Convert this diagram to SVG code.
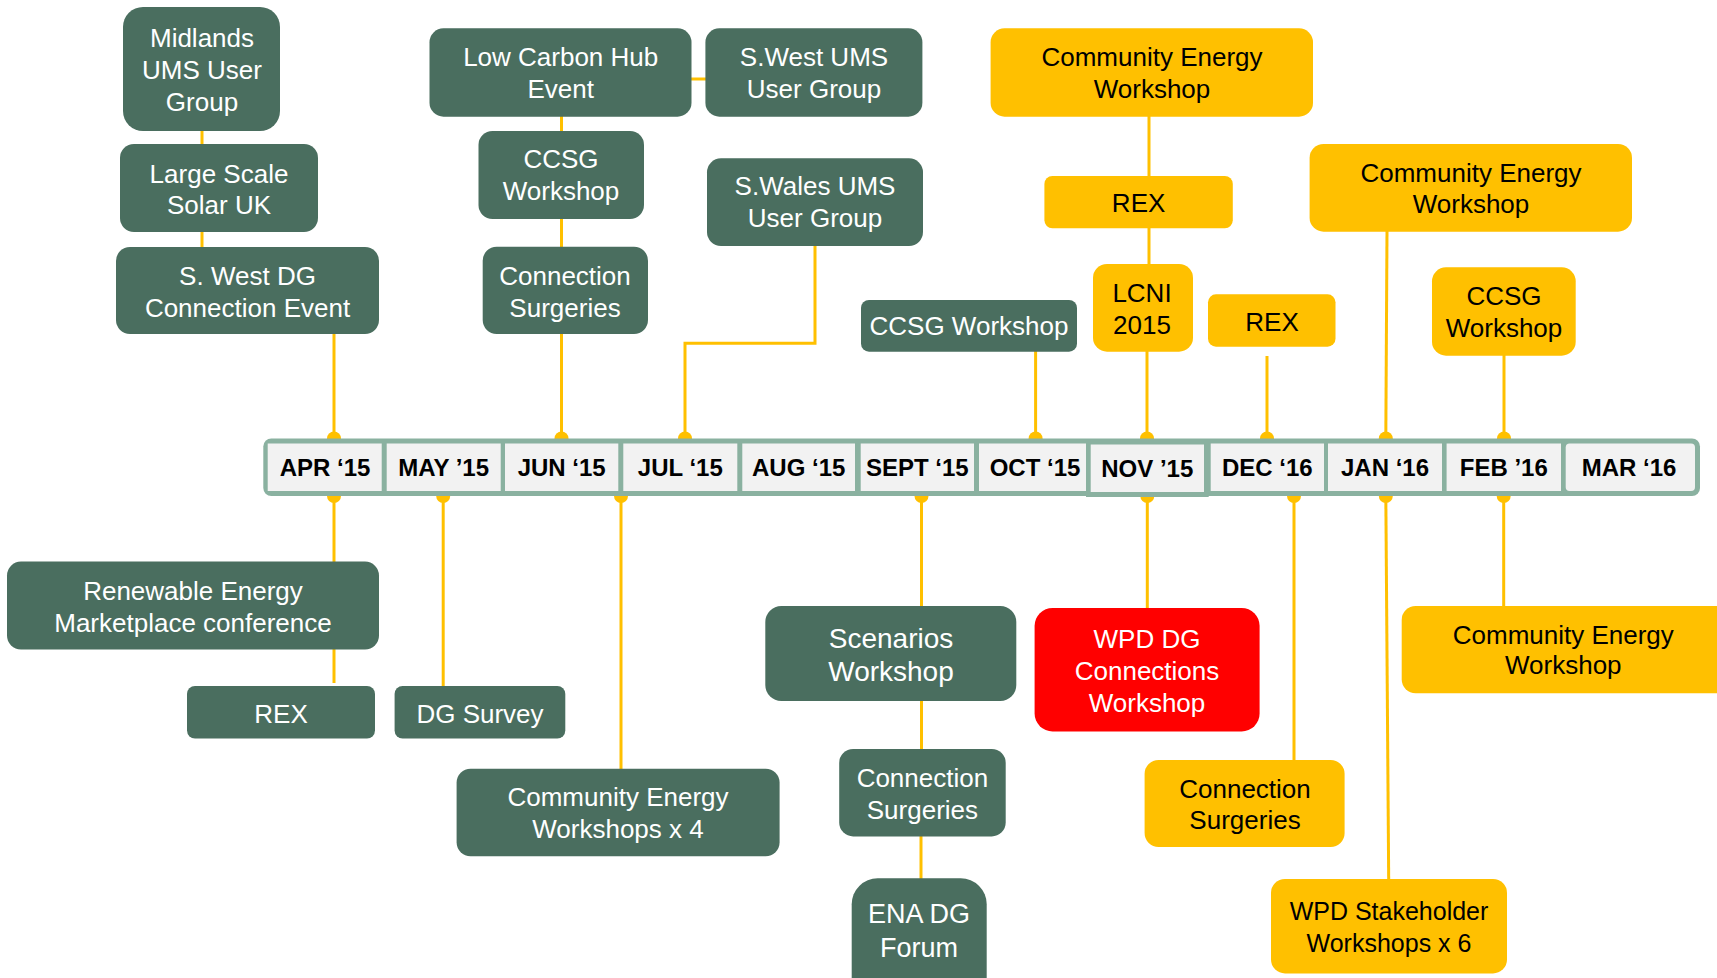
<svg xmlns="http://www.w3.org/2000/svg" width="1717" height="978" viewBox="0 0 1717 978">
<style>
text{font-family:"Liberation Sans",Arial,sans-serif;text-anchor:middle}
.g rect{fill:#4A6E5F}
.y rect{fill:#FFC000}
.r rect{fill:#FF0000}
.g text,.r text{fill:#FFFFFF;font-size:26px}
.y text{fill:#000000;font-size:26px}
.m{font-weight:bold;font-size:24px;fill:#000000}
.cell{fill:#F2F2F2}
#connectors line,#connectors polyline{stroke:#FFC000;stroke-width:3;fill:none}
#connectors circle{fill:#FFC000}
</style>
<rect width="1717" height="978" fill="#FFFFFF"/>
<g id="connectors">
<line x1="202" y1="130" x2="202" y2="145"/>
<line x1="202" y1="231" x2="202" y2="248"/>
<line x1="334" y1="333" x2="334" y2="440"/>
<line x1="691" y1="79" x2="706" y2="79"/>
<line x1="561.5" y1="116" x2="561.5" y2="132"/>
<line x1="561.5" y1="218" x2="561.5" y2="248"/>
<line x1="561.5" y1="333" x2="561.5" y2="440"/>
<polyline points="815,245 815,343.3 685,343.3 685,440"/>
<line x1="1035.6" y1="351" x2="1035.6" y2="440"/>
<line x1="1149" y1="116" x2="1149" y2="177"/>
<line x1="1149" y1="228" x2="1149" y2="265"/>
<line x1="1147" y1="351" x2="1147" y2="440"/>
<line x1="1267" y1="356" x2="1267" y2="440"/>
<line x1="1387" y1="231" x2="1385.8" y2="440"/>
<line x1="1504" y1="355" x2="1504" y2="440"/>
<line x1="334" y1="494" x2="334" y2="562"/>
<line x1="334" y1="649" x2="334" y2="683"/>
<line x1="443.2" y1="494" x2="443.2" y2="687"/>
<line x1="621" y1="494" x2="621" y2="769"/>
<line x1="921.5" y1="494" x2="921.5" y2="607"/>
<line x1="921.5" y1="700" x2="921.5" y2="750"/>
<line x1="921" y1="835" x2="921" y2="879"/>
<line x1="1147.3" y1="494" x2="1147.3" y2="609"/>
<line x1="1294" y1="494" x2="1294" y2="761"/>
<line x1="1385.8" y1="494" x2="1388.7" y2="880"/>
<line x1="1503.7" y1="494" x2="1503.7" y2="607"/>
<circle cx="334" cy="438.5" r="7"/>
<circle cx="561.5" cy="438.5" r="7"/>
<circle cx="685" cy="438.5" r="7"/>
<circle cx="1035.6" cy="438.5" r="7"/>
<circle cx="1147" cy="438.5" r="7"/>
<circle cx="1267" cy="438.5" r="7"/>
<circle cx="1385.8" cy="438.5" r="7"/>
<circle cx="1504" cy="438.5" r="7"/>
<circle cx="334" cy="496" r="7"/>
<circle cx="443.2" cy="496" r="7"/>
<circle cx="621" cy="496" r="7"/>
<circle cx="921.5" cy="496" r="7"/>
<circle cx="1147.3" cy="496" r="7"/>
<circle cx="1294" cy="496" r="7"/>
<circle cx="1385.8" cy="496" r="7"/>
<circle cx="1503.7" cy="496" r="7"/>
</g>
<g id="timeline">
<rect x="263.3" y="438.5" width="1436.7" height="57.5" rx="8" fill="#8AB1A0"/>
<rect class="cell" x="267.7" y="443.5" width="114" height="47.5"/>
<rect class="cell" x="386.7" y="443.5" width="114" height="47.5"/>
<rect class="cell" x="505" y="443.5" width="113.3" height="47.5"/>
<rect class="cell" x="623.3" y="443.5" width="114" height="47.5"/>
<rect class="cell" x="742.3" y="443.5" width="112.7" height="47.5"/>
<rect class="cell" x="860.7" y="443.5" width="113.3" height="47.5"/>
<rect class="cell" x="979" y="443.5" width="107" height="47.5"/>
<rect x="1086" y="440" width="122.7" height="57" fill="#8AB1A0"/>
<rect class="cell" x="1090.7" y="444.5" width="113.3" height="47.5"/>
<rect class="cell" x="1210.7" y="443.5" width="113.3" height="47.5"/>
<rect class="cell" x="1328" y="443.5" width="114" height="47.5"/>
<rect class="cell" x="1446.6" y="443.5" width="114.4" height="47.5"/>
<rect class="cell" x="1565.7" y="443.5" width="129.3" height="47.5" rx="4"/>
<text class="m" x="325" y="475.5">APR ‘15</text>
<text class="m" x="443.7" y="475.5">MAY ’15</text>
<text class="m" x="561.7" y="475.5">JUN ‘15</text>
<text class="m" x="680.3" y="475.5">JUL ‘15</text>
<text class="m" x="798.7" y="475.5">AUG ‘15</text>
<text class="m" x="917.3" y="475.5">SEPT ‘15</text>
<text class="m" x="1035" y="475.5">OCT ‘15</text>
<text class="m" x="1147.3" y="476.5">NOV ’15</text>
<text class="m" x="1267.3" y="475.5">DEC ‘16</text>
<text class="m" x="1385" y="475.5">JAN ‘16</text>
<text class="m" x="1503.8" y="475.5">FEB ’16</text>
<text class="m" x="1629" y="476">MAR ‘16</text>
</g>
<g id="midlands" class="g"><rect x="123" y="7" width="157" height="124" rx="20"/><text x="202" y="46.7">Midlands</text><text x="202" y="79">UMS User</text><text x="202" y="110.5">Group</text></g>
<g id="largesolar" class="g"><rect x="120" y="144" width="198" height="88" rx="14"/><text x="219" y="182.7">Large Scale</text><text x="219" y="213.5">Solar UK</text></g>
<g id="swestdg" class="g"><rect x="116" y="247" width="263" height="87" rx="14"/><text x="247.5" y="285">S. West DG</text><text x="247.5" y="316.7">Connection Event</text></g>
<g id="lowcarbon" class="g"><rect x="429.5" y="28.3" width="262" height="88.4" rx="14"/><text x="560.7" y="66">Low Carbon Hub</text><text x="560.7" y="97.7">Event</text></g>
<g id="swestums" class="g"><rect x="705.4" y="28.3" width="217" height="88.4" rx="14"/><text x="814" y="66">S.West UMS</text><text x="814" y="97.7">User Group</text></g>
<g id="ccsgjun" class="g"><rect x="478.5" y="131" width="165.5" height="88" rx="14"/><text x="561" y="168.3">CCSG</text><text x="561" y="200">Workshop</text></g>
<g id="connjun" class="g"><rect x="482.7" y="246.7" width="165.3" height="87.3" rx="14"/><text x="565" y="285">Connection</text><text x="565" y="316.7">Surgeries</text></g>
<g id="swales" class="g"><rect x="707" y="158.3" width="216" height="87.7" rx="14"/><text x="815" y="195">S.Wales UMS</text><text x="815" y="227.3">User Group</text></g>
<g id="ccsgoct" class="g"><rect x="861" y="300" width="216" height="51.7" rx="8"/><text x="969" y="335">CCSG Workshop</text></g>
<g id="renewable" class="g"><rect x="7" y="561.6" width="372" height="88" rx="14"/><text x="193" y="599.7">Renewable Energy</text><text x="193" y="632">Marketplace conference</text></g>
<g id="rexapr" class="g"><rect x="187" y="686" width="188" height="52.5" rx="8"/><text x="281" y="722.5">REX</text></g>
<g id="dgsurvey" class="g"><rect x="394.6" y="686" width="170.7" height="52.5" rx="8"/><text x="480" y="722.5">DG Survey</text></g>
<g id="cex4" class="g"><rect x="456.6" y="768.7" width="323" height="87.6" rx="14"/><text x="618" y="806">Community Energy</text><text x="618" y="838">Workshops x 4</text></g>
<g id="scenarios" class="g"><rect x="765.3" y="606" width="251" height="95" rx="16"/><text x="891" y="647.8" style="font-size:28px">Scenarios</text><text x="891" y="680.9" style="font-size:28px">Workshop</text></g>
<g id="connsep" class="g"><rect x="839.2" y="749" width="166.5" height="87.4" rx="14"/><text x="922.4" y="786.5">Connection</text><text x="922.4" y="818.6">Surgeries</text></g>
<g id="enadg" class="g"><rect x="851.7" y="878.3" width="135" height="125" rx="26"/><text x="919" y="923.3" style="font-size:27px">ENA DG</text><text x="919" y="956.7" style="font-size:27px">Forum</text></g>
<g id="wpddg" class="r"><rect x="1034.6" y="608" width="225" height="123.4" rx="18"/><text x="1147" y="647.5">WPD DG</text><text x="1147" y="679.5">Connections</text><text x="1147" y="711.5">Workshop</text></g>
<g id="ce1" class="y"><rect x="990.6" y="28.3" width="322.4" height="88.4" rx="14"/><text x="1152" y="66">Community Energy</text><text x="1152" y="97.7">Workshop</text></g>
<g id="rexnov" class="y"><rect x="1044.4" y="176" width="188.4" height="52.3" rx="8"/><text x="1138.6" y="211.7">REX</text></g>
<g id="lcni" class="y"><rect x="1093" y="264" width="100" height="87.7" rx="14"/><text x="1142" y="301.7">LCNI</text><text x="1142" y="334">2015</text></g>
<g id="rexdec" class="y"><rect x="1208" y="294.3" width="127.5" height="52.4" rx="8"/><text x="1272" y="331">REX</text></g>
<g id="ce2" class="y"><rect x="1309.6" y="144" width="322.4" height="87.7" rx="14"/><text x="1471" y="181.7">Community Energy</text><text x="1471" y="213.3">Workshop</text></g>
<g id="ccsgfeb" class="y"><rect x="1432" y="267.3" width="143.7" height="88.4" rx="14"/><text x="1504" y="305">CCSG</text><text x="1504" y="337.3">Workshop</text></g>
<g id="ce3" class="y"><rect x="1401.7" y="606" width="330" height="87.3" rx="14"/><text x="1563.3" y="643.5">Community Energy</text><text x="1563.3" y="674">Workshop</text></g>
<g id="conndec" class="y"><rect x="1144.6" y="760" width="200" height="87" rx="14"/><text x="1245" y="798">Connection</text><text x="1245" y="829">Surgeries</text></g>
<g id="wpdstake" class="y"><rect x="1271" y="879" width="236" height="94.4" rx="14"/><text x="1389" y="920" style="font-size:25px">WPD Stakeholder</text><text x="1389" y="952" style="font-size:25px">Workshops x 6</text></g>
</svg>
